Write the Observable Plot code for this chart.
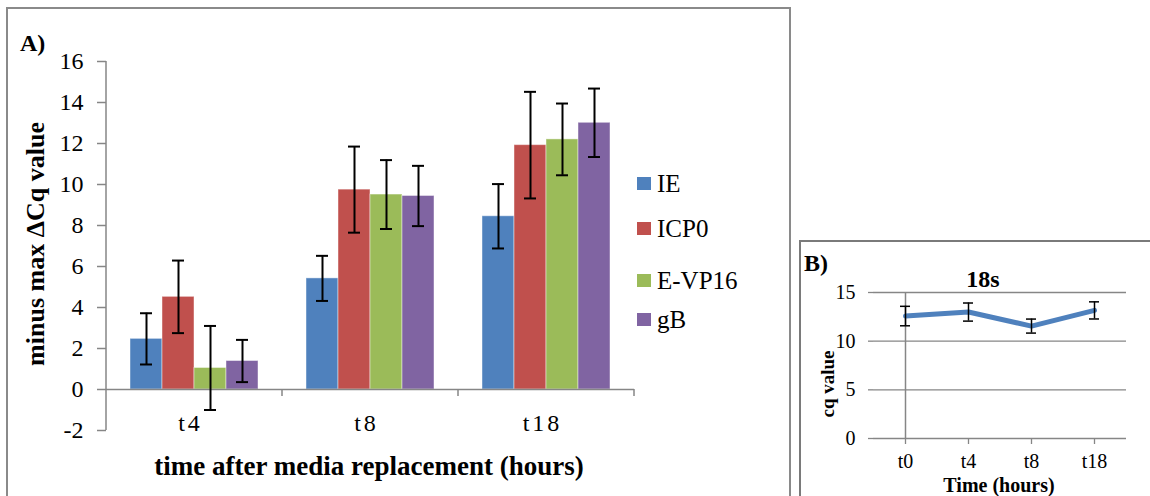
<!DOCTYPE html>
<html><head><meta charset="utf-8">
<script src="https://cdn.jsdelivr.net/npm/d3@7"></script>
<script src="https://cdn.jsdelivr.net/npm/@observablehq/plot@0.6"></script>
<style>
html,body{margin:0;padding:0;background:#fff;}
body{width:1150px;height:496px;overflow:hidden;position:relative;font-family:"Liberation Serif","Times New Roman",serif;color:#000;}
svg, svg text{font-family:"Liberation Serif","Times New Roman",serif !important;}
.abs{position:absolute;white-space:nowrap;line-height:1;font-family:"Liberation Serif","Times New Roman",serif;}
.c{transform:translate(-50%,-50%);}
.rot{transform:translate(-50%,-50%) rotate(-90deg);}
.b{font-weight:bold;}
#frameA{position:absolute;left:6px;top:7px;width:781px;height:510px;border:2px solid #8a8a8a;}
#frameB{position:absolute;left:799px;top:240px;width:400px;height:300px;border:2px solid #7a7a7a;}
#plotA{position:absolute;left:0;top:0;}
#plotB{position:absolute;left:800px;top:241px;}
.leg{position:absolute;left:637px;font-size:25px;display:flex;align-items:center;line-height:1;font-family:"Liberation Serif","Times New Roman",serif;}
.sw{display:inline-block;width:14px;height:13px;margin-right:6px;}
</style>
</head><body>
<div id="frameA"></div>
<div id="frameB"></div>
<div id="plotA"></div>
<div id="plotB"></div>
<div id="legend"></div>
<div class="abs b" style="left:20px;top:31px;font-size:24px;">A)</div>
<div class="abs b rot" style="left:36px;top:244px;font-size:26px;">minus max ΔCq value</div>
<div class="abs b c" style="left:369px;top:466px;font-size:27px;">time after media replacement (hours)</div>
<div class="abs b" style="left:804px;top:251px;font-size:24px;">B)</div>
<div class="abs b c" style="left:983px;top:279px;font-size:24px;">18s</div>
<div class="abs b rot" style="left:827px;top:384px;font-size:19px;">cq value</div>
<div class="abs b c" style="left:999px;top:485px;font-size:20px;">Time (hours)</div>
<script>
// ---- Panel A data ----
const times = ["t4", "t8", "t18"];
const genes = ["IE", "ICP0", "E-VP16", "gB"];
const geneColors = ["#4F81BD", "#C0504D", "#9BBB59", "#8064A2"];
const IE = [2.47, 5.42, 8.45];
const ICP0 = [4.52, 9.75, 11.92];
const EVP16 = [1.05, 9.51, 12.20];
const gB = [1.39, 9.44, 13.01];
const IEerr = [1.25, 1.10, 1.57];
const ICP0err = [1.77, 2.10, 2.60];
const EVP16err = [2.05, 1.68, 1.75];
const gBerr = [1.03, 1.47, 1.67];
const yTicksA = [-2, 0, 2, 4, 6, 8, 10, 12, 14, 16];

// ---- Panel B data ----
const hoursB = ["t0", "t4", "t8", "t18"];
const cq18s = [12.58, 12.99, 11.55, 13.16];
const cq18sErr = [1.00, 0.93, 0.72, 0.88];
const yTicksB = [0, 5, 10, 15];

const axisGray = "#868686";
const serif = "'Liberation Serif', 'Times New Roman', serif";

const seriesVals = [IE, ICP0, EVP16, gB];
const seriesErr = [IEerr, ICP0err, EVP16err, gBerr];
const rowsA = [];
times.forEach((t, i) => genes.forEach((g, j) => {
  const v = seriesVals[j][i], e = seriesErr[j][i];
  rowsA.push({time: t, gene: g, value: v, lo: v - e, hi: v + e});
}));

const plotA = Plot.plot({
  width: 790, height: 496,
  marginLeft: 106, marginRight: 156, marginTop: 61, marginBottom: 66,
  style: {fontFamily: serif, fontSize: "24px", color: "#000", background: "transparent", overflow: "visible"},
  fx: {domain: times, padding: 0, label: null},
  x: {domain: genes, paddingInner: 0, paddingOuter: 0.75, axis: null},
  y: {domain: [-2, 16]},
  color: {domain: genes, range: geneColors},
  marks: [
    Plot.axisY({ticks: yTicksA, tickSize: 9, tickPadding: 14, stroke: axisGray, strokeWidth: 1.5, label: null, tickFormat: d => String(d), fontSize: 24, fontFamily: serif}),
    Plot.axisFx({anchor: "bottom", tickSize: 0, tickPadding: -17, dx: -4, label: null, fontSize: 24, fontFamily: serif}),
    Plot.barY(rowsA, {fx: "time", x: "gene", y: "value", fill: "gene", stroke: "#fff", strokeWidth: 1, strokeOpacity: 0.45}),
    Plot.ruleY([0], {stroke: axisGray, strokeWidth: 1.5}),
    Plot.ruleX(rowsA, {fx: "time", x: "gene", y1: "lo", y2: "hi", stroke: "#000", strokeWidth: 2}),
    Plot.tickY(rowsA, {fx: "time", x: "gene", y: "lo", stroke: "#000", strokeWidth: 2, insetLeft: 10, insetRight: 10}),
    Plot.tickY(rowsA, {fx: "time", x: "gene", y: "hi", stroke: "#000", strokeWidth: 2, insetLeft: 10, insetRight: 10})
  ]
});
document.getElementById("plotA").appendChild(plotA);

// axis line and category boundary ticks, placed with Plot's own scales
{
  const fx = plotA.scale("fx"), y = plotA.scale("y");
  const svg = d3.select(plotA);
  const left = fx.apply(times[0]);
  const edges = times.map(t => fx.apply(t)).concat([fx.apply(times[times.length - 1]) + fx.bandwidth]);
  const g = svg.append("g").attr("stroke", axisGray).attr("stroke-width", 1.5);
  g.append("line").attr("x1", left).attr("x2", left).attr("y1", y.apply(-2)).attr("y2", y.apply(16));
  edges.slice(1).forEach(ex => g.append("line").attr("x1", ex).attr("x2", ex).attr("y1", y.apply(0)).attr("y2", y.apply(0) + 7));
  svg.selectAll('[aria-label="fx-axis tick label"] text').style("letter-spacing", "3px");
}

// legend
const legTops = {"IE": 183, "ICP0": 228, "E-VP16": 280, "gB": 319};
const legend = document.getElementById("legend");
genes.forEach((g, j) => {
  const d = document.createElement("div");
  d.className = "leg";
  d.style.top = (legTops[g] - 13) + "px";
  d.style.height = "26px";
  d.innerHTML = `<span class="sw" style="background:${geneColors[j]}"></span><span>${g}</span>`;
  legend.appendChild(d);
});

// ---- Panel B ----
const rowsB = hoursB.map((h, i) => ({hour: h, cq: cq18s[i], lo: cq18s[i] - cq18sErr[i], hi: cq18s[i] + cq18sErr[i]}));
const plotB = Plot.plot({
  width: 350, height: 255,
  marginLeft: 73, marginRight: 24, marginTop: 51, marginBottom: 58,
  style: {fontFamily: serif, fontSize: "20px", color: "#000", background: "transparent", overflow: "visible"},
  x: {type: "point", domain: hoursB},
  y: {domain: [0, 15]},
  marks: [
    Plot.gridY(yTicksB.filter(d => d > 0), {stroke: axisGray, strokeOpacity: 1, strokeWidth: 1.3}),
    Plot.ruleY([0], {stroke: axisGray, strokeWidth: 1.5}),
    Plot.ruleX([hoursB[0]], {y1: 0, y2: 15, stroke: axisGray, strokeWidth: 1.5}),
    Plot.axisY({ticks: yTicksB, tickSize: 5, tickPadding: 13, stroke: axisGray, strokeWidth: 1.3, label: null, fontSize: 20, fontFamily: serif}),
    Plot.axisX({tickSize: 6, tickPadding: 9, stroke: axisGray, strokeWidth: 1.3, label: null, fontSize: 20, fontFamily: serif}),
    Plot.line(rowsB, {x: "hour", y: "cq", stroke: "#4F81BD", strokeWidth: 5}),
    Plot.ruleX(rowsB, {x: "hour", y1: "lo", y2: "hi", stroke: "#000", strokeWidth: 1.5}),
    Plot.ruleY(rowsB, {x1: "hour", x2: "hour", y: "lo", stroke: "#000", strokeWidth: 1.5, insetLeft: -5, insetRight: -5}),
    Plot.ruleY(rowsB, {x1: "hour", x2: "hour", y: "hi", stroke: "#000", strokeWidth: 1.5, insetLeft: -5, insetRight: -5})
  ]
});
document.getElementById("plotB").appendChild(plotB);
</script>
</body></html>
